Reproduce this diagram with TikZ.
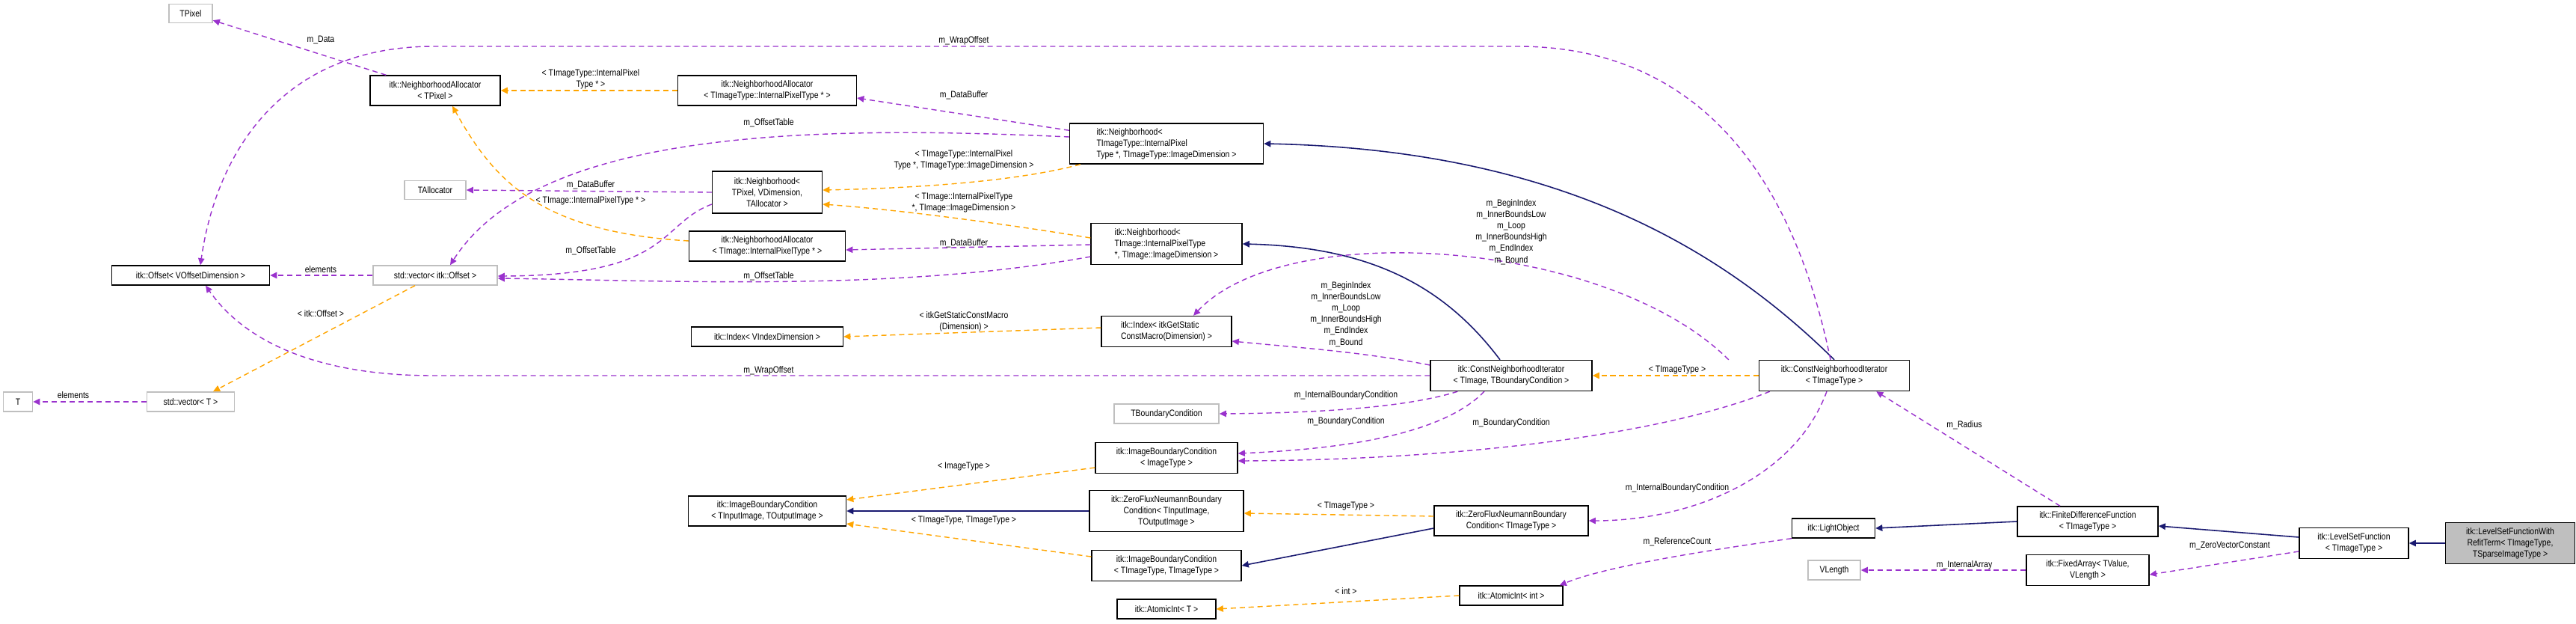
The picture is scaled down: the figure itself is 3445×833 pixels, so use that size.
\documentclass[tikz,border=0pt]{standalone}
\usepackage{fontspec}
\setmainfont{Liberation Sans}[FakeStretch=0.85]
\usepackage{tikz}
\usetikzlibrary{arrows.meta,calc}
\definecolor{usecol}{RGB}{154,50,205}
\definecolor{tplcol}{RGB}{255,165,0}
\definecolor{inhcol}{RGB}{25,25,112}
\newlength{\pxu}
\setlength{\pxu}{0.01cm}
\tikzset{
  cls/.style={draw=black, line width=0.4pt, fill=white, inner sep=1pt, align=center,
              font=\fontsize{3.5}{4.3}\selectfont},
  ext/.style={cls, draw=black!25},
  self/.style={cls, fill=black!25},
  lbl/.style={inner sep=0pt, align=center, font=\fontsize{3.5}{4.3}\selectfont},
  use/.style={-{Triangle[length=2.6pt,width=2.4pt]}, draw=usecol, line width=0.4pt, dash pattern=on 2pt off 1.4pt},
  tpl/.style={-{Triangle[length=2.6pt,width=2.4pt]}, draw=tplcol, line width=0.4pt, dash pattern=on 2pt off 1.4pt},
  inh/.style={-{Triangle[length=2.6pt,width=2.4pt]}, draw=inhcol, line width=0.45pt}
}
\begin{document}
\begin{tikzpicture}[x=0.01cm, y=-0.01cm]
  \useasboundingbox (0,0) rectangle (3445,833);
  % left columns
  \node[ext, minimum width=58\pxu, minimum height=25\pxu] (tpix) at (255,18) {TPixel};
  \node[cls, minimum width=174\pxu, minimum height=40\pxu] (natp) at (582,121) {itk::NeighborhoodAllocator\\< TPixel >};
  \node[ext, minimum width=82\pxu, minimum height=25\pxu] (talloc) at (582,254) {TAllocator};
  \node[cls, minimum width=211\pxu, minimum height=26\pxu] (offs) at (255,368) {itk::Offset< VOffsetDimension >};
  \node[ext, minimum width=166\pxu, minimum height=26\pxu] (vecoff) at (582,368) {std::vector< itk::Offset >};
  \node[ext, minimum width=39\pxu, minimum height=26\pxu] (tt) at (24,537) {T};
  \node[ext, minimum width=117\pxu, minimum height=26\pxu] (vect) at (255,537) {std::vector< T >};
  \node[cls, minimum width=239\pxu, minimum height=40\pxu] (naty) at (1026,121) {itk::NeighborhoodAllocator\\< TImageType::InternalPixelType * >};
  \node[cls, minimum width=147\pxu, minimum height=56\pxu] (ntp) at (1026,257) {itk::Neighborhood<\\ TPixel, VDimension,\\ TAllocator >};
  \node[cls, minimum width=209\pxu, minimum height=40\pxu] (naim) at (1026,329) {itk::NeighborhoodAllocator\\< TImage::InternalPixelType * >};
  \node[cls, minimum width=203\pxu, minimum height=26\pxu] (idxv) at (1026,450) {itk::Index< VIndexDimension >};
  \node[cls, minimum width=211\pxu, minimum height=40\pxu] (ibcio) at (1026,683) {itk::ImageBoundaryCondition\\< TInputImage, TOutputImage >};
  % middle column
  \node[cls, minimum width=259\pxu, minimum height=54\pxu, align=left] (nty) at (1560,192) {itk::Neighborhood<\\ TImageType::InternalPixel\\Type *, TImageType::ImageDimension >};
  \node[cls, minimum width=202\pxu, minimum height=55\pxu, align=left] (nim) at (1560,326) {itk::Neighborhood<\\ TImage::InternalPixelType\\ *, TImage::ImageDimension >};
  \node[cls, minimum width=174\pxu, minimum height=41\pxu, align=left] (idxs) at (1560,443) {itk::Index< itkGetStatic\\ConstMacro(Dimension) >};
  \node[ext, minimum width=140\pxu, minimum height=26\pxu] (tbc) at (1560,553) {TBoundaryCondition};
  \node[cls, minimum width=190\pxu, minimum height=41\pxu] (ibci) at (1560,612) {itk::ImageBoundaryCondition\\< ImageType >};
  \node[cls, minimum width=206\pxu, minimum height=55\pxu] (zfio) at (1560,683) {itk::ZeroFluxNeumannBoundary\\Condition< TInputImage,\\ TOutputImage >};
  \node[cls, minimum width=200\pxu, minimum height=41\pxu] (ibctt) at (1560,756) {itk::ImageBoundaryCondition\\< TImageType, TImageType >};
  \node[cls, minimum width=132\pxu, minimum height=26\pxu] (atomt) at (1560,814) {itk::AtomicInt< T >};
  % right part
  \node[cls, minimum width=216\pxu, minimum height=41\pxu] (cni) at (2021,502) {itk::ConstNeighborhoodIterator\\< TImage, TBoundaryCondition >};
  \node[cls, minimum width=201\pxu, minimum height=41\pxu] (cnit) at (2453,502) {itk::ConstNeighborhoodIterator\\< TImageType >};
  \node[cls, minimum width=206\pxu, minimum height=40\pxu] (zft) at (2021,696) {itk::ZeroFluxNeumannBoundary\\Condition< TImageType >};
  \node[cls, minimum width=138\pxu, minimum height=26\pxu] (atomi) at (2021,796) {itk::AtomicInt< int >};
  \node[cls, minimum width=111\pxu, minimum height=26\pxu] (lobj) at (2452,706) {itk::LightObject};
  \node[ext, minimum width=70\pxu, minimum height=26\pxu] (vlen) at (2453,762) {VLength};
  \node[cls, minimum width=188\pxu, minimum height=40\pxu] (fdf) at (2792,697) {itk::FiniteDifferenceFunction\\< TImageType >};
  \node[cls, minimum width=164\pxu, minimum height=41\pxu] (farr) at (2792,762) {itk::FixedArray< TValue,\\ VLength >};
  \node[cls, minimum width=146\pxu, minimum height=41\pxu] (lsf) at (3148,726) {itk::LevelSetFunction\\< TImageType >};
  \node[self, minimum width=173\pxu, minimum height=55\pxu] (lsfr) at (3357,726) {itk::LevelSetFunctionWith\\RefitTerm< TImageType,\\ TSparseImageType >};

  % inheritance
  \draw[inh] (cnit.north) .. controls (2300,330) and (2080,200) .. (nty.east);
  \draw[inh] ($(cni.north)+(-15,0)$) .. controls (1930,380) and (1830,330) .. (nim.east);
  \draw[inh] (zfio.west) -- (ibcio.east);
  \draw[inh] ($(zft.west)+(0,10)$) -- (ibctt.east);
  \draw[inh] (fdf.west) -- (lobj.east);
  \draw[inh] ($(lsf.west)+(0,-8)$) -- ($(fdf.east)+(0,6)$);
  \draw[inh] (lsfr.west) -- (lsf.east);

  % template instances
  \draw[tpl] (naty.west) -- (natp.east);
  \draw[tpl] ($(naim.west)+(0,-7)$) .. controls (720,310) and (660,240) .. ($(natp.south)+(23,0)$);
  \draw[tpl] ($(nty.south west)+(15,0)$) .. controls (1350,245) and (1200,252) .. ($(ntp.east)+(0,-3)$);
  \draw[tpl] ($(nim.west)+(0,-8)$) .. controls (1350,300) and (1200,280) .. ($(ntp.east)+(0,16)$);
  \draw[tpl] ($(vecoff.south)+(-27,0)$) -- ($(vect.north)+(30,0)$);
  \draw[tpl] ($(idxs.west)+(0,-5)$) -- (idxv.east);
  \draw[tpl] (cnit.west) -- (cni.east);
  \draw[tpl] ($(ibci.west)+(0,13)$) -- ($(ibcio.east)+(0,-15)$);
  \draw[tpl] ($(ibctt.west)+(0,-12)$) -- ($(ibcio.east)+(0,17)$);
  \draw[tpl] ($(zft.west)+(0,-6)$) -- ($(zfio.east)+(0,3)$);
  \draw[tpl] (atomi.west) -- (atomt.east);

  % usage
  \draw[use] ($(natp.north west)+(22,0)$) -- ($(tpix.south east)+(0,-4)$);
  \draw[use] ($(nty.north west)+(0,10)$) -- ($(naty.east)+(0,10)$);
  \draw[use] ($(nty.west)+(0,-9)$) .. controls (1100,168) and (720,170) .. ($(vecoff.north)+(20,0)$);
  \draw[use] (ntp.west) -- (talloc.east);
  \draw[use] ($(ntp.west)+(0,16)$) .. controls (880,300) and (900,368) .. ($(vecoff.east)+(0,1)$);
  \draw[use] ($(nim.west)+(0,1)$) -- ($(naim.east)+(0,5)$);
  \draw[use] ($(nim.west)+(0,17)$) .. controls (1200,390) and (900,375) .. ($(vecoff.east)+(0,4)$);
  \draw[use] (vecoff.west) -- (offs.east);
  \draw[use] (vect.west) -- (tt.east);
  \draw[use] ($(cnit.north)+(-5,0)$) .. controls (2380,150) and (2200,62) .. (2030,62) -- (580,62)
    .. controls (380,62) and (290,200) .. ($(offs.north)+(13,0)$);
  \draw[use] (cni.west) -- (580,502) .. controls (430,502) and (330,460) .. ($(offs.south)+(20,0)$);
  \draw[use] ($(cni.west)+(0,-14)$) .. controls (1820,470) and (1740,465) .. ($(idxs.east)+(0,13)$);
  \draw[use] ($(cnit.north west)+(-40,0)$) .. controls (2150,320) and (1720,290) .. ($(idxs.north)+(36,0)$);
  \draw[use] ($(cni.south west)+(37,0)$) .. controls (1880,545) and (1760,552) .. (tbc.east);
  \draw[use] ($(cni.south)+(-36,0)$) .. controls (1930,580) and (1800,600) .. ($(ibci.east)+(0,-6)$);
  \draw[use] ($(cnit.south west)+(15,0)$) .. controls (2200,590) and (1900,615) .. ($(ibci.east)+(0,4)$);
  \draw[use] ($(cnit.south)+(-10,0)$) .. controls (2400,640) and (2260,696) .. (zft.east);
  \draw[use] (lobj.south west) .. controls (2250,740) and (2140,760) .. ($(atomi.north east)+(-5,0)$);
  \draw[use] ($(fdf.north)+(-37,0)$) -- ($(cnit.south east)+(-45,0)$);
  \draw[use] (farr.west) -- (vlen.east);
  \draw[use] ($(lsf.west)+(0,11)$) -- ($(farr.east)+(0,6)$);

  % connector labels
  \node[lbl] (l1) at (429,53) {m\_Data};
  \node[lbl] (l2) at (1289,54) {m\_WrapOffset};
  \node[lbl] (l3) at (790,106) {< TImageType::InternalPixel\\Type * >};
  \node[lbl] (l4) at (1289,127) {m\_DataBuffer};
  \node[lbl] (l5) at (1028,164) {m\_OffsetTable};
  \node[lbl] (l6) at (1289,214) {< TImageType::InternalPixel\\Type *, TImageType::ImageDimension >};
  \node[lbl] (l7) at (790,247) {m\_DataBuffer};
  \node[lbl] (l8) at (790,268) {< TImage::InternalPixelType * >};
  \node[lbl] (l9) at (1289,271) {< TImage::InternalPixelType\\ *, TImage::ImageDimension >};
  \node[lbl] (l10) at (1289,325) {m\_DataBuffer};
  \node[lbl] (l11) at (790,335) {m\_OffsetTable};
  \node[lbl] (l12) at (429,360) {elements};
  \node[lbl] (l13) at (1028,369) {m\_OffsetTable};
  \node[lbl] (l14) at (429,419) {< itk::Offset >};
  \node[lbl] (l15) at (1289,430) {< itkGetStaticConstMacro\\(Dimension) >};
  \node[lbl] (l16) at (1028,495) {m\_WrapOffset};
  \node[lbl] (l17) at (98,528) {elements};
  \node[lbl] (l18) at (1289,624) {< ImageType >};
  \node[lbl] (l19) at (1289,696) {< TImageType, TImageType >};
  \node[lbl] (l20) at (2021,310) {m\_BeginIndex\\m\_InnerBoundsLow\\m\_Loop\\m\_InnerBoundsHigh\\m\_EndIndex\\m\_Bound};
  \node[lbl] (l21) at (1800,420) {m\_BeginIndex\\m\_InnerBoundsLow\\m\_Loop\\m\_InnerBoundsHigh\\m\_EndIndex\\m\_Bound};
  \node[lbl] (l22) at (2243,495) {< TImageType >};
  \node[lbl] (l23) at (1800,528) {m\_InternalBoundaryCondition};
  \node[lbl] (l24) at (1800,563) {m\_BoundaryCondition};
  \node[lbl] (l25) at (2021,565) {m\_BoundaryCondition};
  \node[lbl] (l26) at (2627,568) {m\_Radius};
  \node[lbl] (l27) at (2243,652) {m\_InternalBoundaryCondition};
  \node[lbl] (l28) at (1800,677) {< TImageType >};
  \node[lbl] (l29) at (2243,724) {m\_ReferenceCount};
  \node[lbl] (l30) at (2982,729) {m\_ZeroVectorConstant};
  \node[lbl] (l31) at (2627,755) {m\_InternalArray};
  \node[lbl] (l32) at (1800,790) {< int >};
\end{tikzpicture}
\end{document}
